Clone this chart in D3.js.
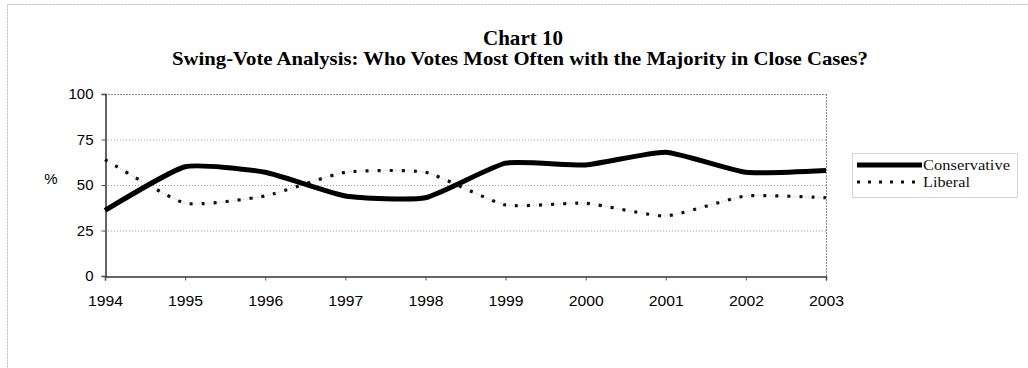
<!DOCTYPE html>
<html><head><meta charset="utf-8">
<script src="https://cdn.jsdelivr.net/npm/d3@7"></script>
<style>
html,body{margin:0;padding:0;background:#fff;}
svg{display:block;}
</style></head>
<body>
<svg id="c" width="1028" height="368"></svg>
<script>
const years = ["1994","1995","1996","1997","1998","1999","2000","2001","2002","2003"];
const conservative = [36, 60, 57, 44, 43, 62, 61, 68, 57, 58];
const liberal = [64, 40, 44, 57, 57, 39, 40, 33, 44, 43];
const yTicks = [0, 25, 50, 75, 100];
const seriesNames = ["Conservative", "Liberal"];
const titleText = "Chart 10";
const subtitleText = "Swing-Vote Analysis: Who Votes Most Often with the Majority in Close Cases?";

const svg = d3.select("#c");
const m = {left: 105, right: 826, top: 94, bottom: 276};

// outer border
svg.append("rect").attr("x", 7.5).attr("y", 4.5).attr("width", 1030).attr("height", 380)
  .attr("fill", "none").attr("stroke", "#b8b8b8").attr("stroke-width", 1).attr("stroke-dasharray", "2,1");

const x = d3.scalePoint().domain(years).range([m.left, m.right]);
const y = d3.scaleLinear().domain([0, 100]).range([m.bottom, m.top]);

// titles
svg.append("text").attr("x", 523).attr("y", 45).attr("text-anchor", "middle")
  .attr("font-family", "Liberation Serif, serif").attr("font-weight", "bold").attr("font-size", 21)
  .attr("textLength", 80).attr("lengthAdjust", "spacingAndGlyphs").text(titleText);
svg.append("text").attr("x", 520).attr("y", 65).attr("text-anchor", "middle")
  .attr("font-family", "Liberation Serif, serif").attr("font-weight", "bold").attr("font-size", 19)
  .attr("textLength", 696).attr("lengthAdjust", "spacingAndGlyphs").text(subtitleText);

// gridlines
svg.append("g").selectAll("line").data(yTicks.filter(d => d > 0 && d < 100)).join("line")
  .attr("x1", m.left).attr("x2", m.right).attr("y1", d => y(d) + 0.5).attr("y2", d => y(d) + 0.5)
  .attr("stroke", "#9a9a9a").attr("stroke-width", 1).attr("stroke-dasharray", "1,2");

// plot frame: top and right
svg.append("line").attr("x1", m.left).attr("x2", m.right).attr("y1", m.top + 0.5).attr("y2", m.top + 0.5)
  .attr("stroke", "#888").attr("stroke-dasharray", "2,1");
svg.append("line").attr("x1", m.right + 0.5).attr("x2", m.right + 0.5).attr("y1", m.top).attr("y2", m.bottom)
  .attr("stroke", "#888").attr("stroke-dasharray", "2,1");

// y axis
const yAxis = d3.axisLeft(y).tickValues(yTicks).tickSize(4).tickPadding(8);
const gy = svg.append("g").attr("transform", `translate(${m.left + 0.5},0)`).call(yAxis);
gy.select(".domain").attr("stroke", "#333").attr("stroke-width", 1.5);
gy.selectAll(".tick line").attr("stroke", "#555");
gy.selectAll("text").attr("font-family", "Liberation Sans, Arial, sans-serif")
  .attr("font-size", 15).attr("fill", "#000").attr("dy", "0.32em");

// x axis
const xAxis = d3.axisBottom(x).tickSize(4).tickPadding(15);
const gx = svg.append("g").attr("transform", `translate(0,${m.bottom + 0.5})`).call(xAxis);
gx.select(".domain").attr("stroke", "#333").attr("stroke-width", 1.5);
gx.selectAll(".tick line").attr("stroke", "#555");
gx.selectAll("text").attr("font-family", "Liberation Sans, Arial, sans-serif")
  .attr("font-size", 15).attr("fill", "#000")
  .attr("textLength", 35).attr("lengthAdjust", "spacingAndGlyphs");

// % label
svg.append("text").attr("x", 51).attr("y", 184).attr("text-anchor", "middle")
  .attr("font-family", "Liberation Sans, Arial, sans-serif").attr("font-size", 15).attr("fill", "#000").text("%");

const line = d3.line().x((d, i) => x(years[i])).y(d => y(d)).curve(d3.curveCardinal.tension(0.5));

svg.append("path").datum(liberal).attr("d", line).attr("fill", "none")
  .attr("stroke", "#bbb").attr("stroke-width", 1).attr("stroke-dasharray", "1,2");
svg.append("path").datum(liberal).attr("d", line).attr("fill", "none")
  .attr("stroke", "#111").attr("stroke-width", 3.2).attr("stroke-dasharray", "3,9");
svg.append("path").datum(conservative).attr("d", line).attr("fill", "none")
  .attr("stroke", "#000").attr("stroke-width", 5).attr("stroke-linejoin", "round");

// legend
const lg = svg.append("g");
lg.append("rect").attr("x", 852.5).attr("y", 153.5).attr("width", 165).attr("height", 44)
  .attr("fill", "none").attr("stroke", "#aaa").attr("stroke-dasharray", "1,1");
lg.append("line").attr("x1", 857).attr("x2", 922).attr("y1", 165).attr("y2", 165)
  .attr("stroke", "#000").attr("stroke-width", 5);
lg.append("line").attr("x1", 857).attr("x2", 922).attr("y1", 182).attr("y2", 182)
  .attr("stroke", "#111").attr("stroke-width", 3).attr("stroke-dasharray", "3,8");
lg.append("text").attr("x", 923).attr("y", 170).attr("font-family", "Liberation Serif, serif")
  .attr("font-size", 15).attr("fill", "#111").attr("textLength", 87).attr("lengthAdjust", "spacingAndGlyphs")
  .text(seriesNames[0]);
lg.append("text").attr("x", 923).attr("y", 187).attr("font-family", "Liberation Serif, serif")
  .attr("font-size", 15).attr("fill", "#111").attr("textLength", 47).attr("lengthAdjust", "spacingAndGlyphs")
  .text(seriesNames[1]);
</script>
</body></html>
